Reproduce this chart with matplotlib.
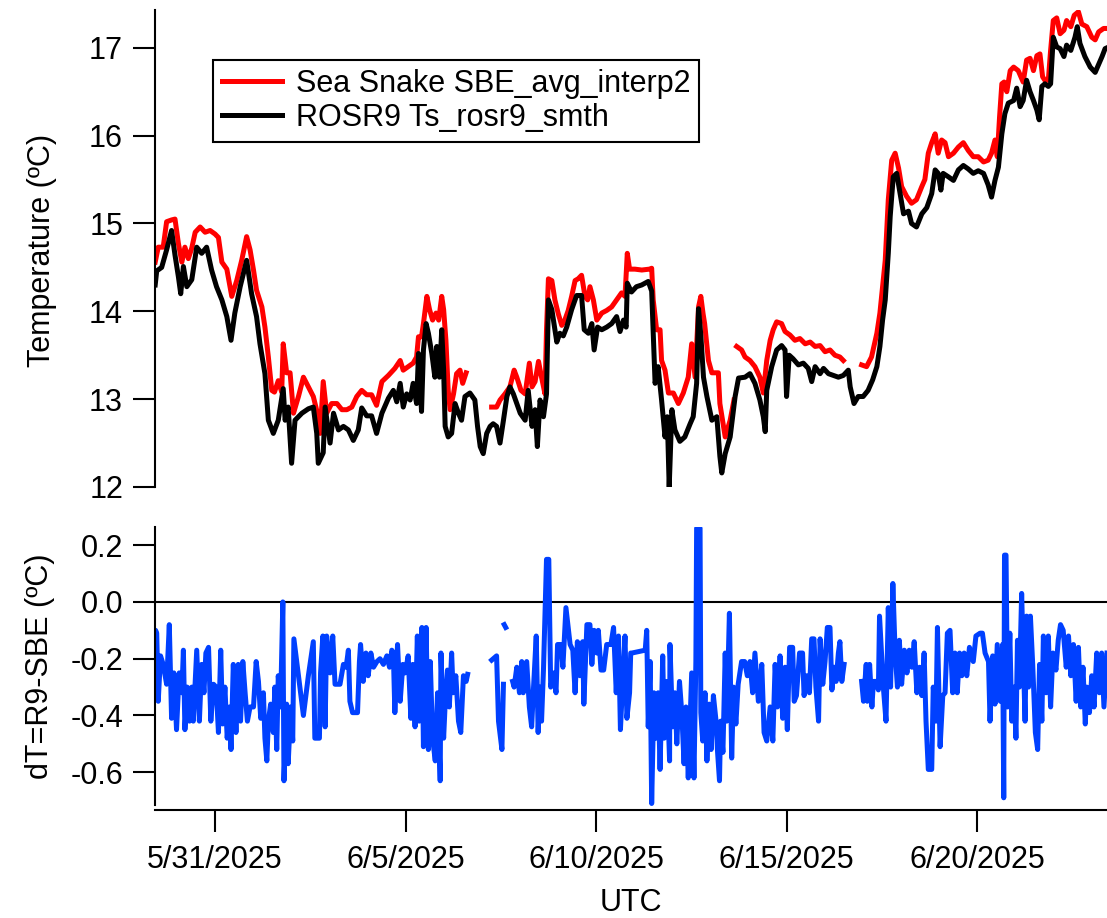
import numpy as np
import matplotlib
matplotlib.use('Agg')
import matplotlib.pyplot as plt
import matplotlib.dates as mdates
from matplotlib.ticker import FixedLocator, FormatStrFormatter, FuncFormatter
from datetime import datetime

nan = np.nan

# times are days since 2025-05-31 00:00 UTC
# Sea Snake SBE (red)
t_sbe = [-1.57, -1.49, -1.36, -1.27, -1.14, -1.05, -0.96, -0.87, -0.79, -0.70, -0.61, -0.52, -0.39,
         -0.26, -0.13, 0.00, 0.09, 0.18, 0.31, 0.44, 0.57, 0.70, 0.83, 0.92, 1.01, 1.09, 1.23, 1.31,
         1.40, 1.49, 1.56, 1.66, 1.75, 1.79, 1.88, 1.97, 2.06, 2.19, 2.32, 2.45, 2.58, 2.71, 2.76,
         2.84, 2.93, 3.06, 3.20, 3.33, 3.46, 3.59, 3.72, 3.85, 3.98, 4.11, 4.24, 4.38, 4.55, 4.72,
         4.86, 4.94, 5.07, 5.20, 5.29, 5.34, 5.42, 5.47, 5.56, 5.63, 5.71, 5.80, 5.87, 5.95, 6.00,
         6.06, 6.12, 6.17, 6.26, 6.34, 6.43, 6.50, 6.59, nan,
         7.26, 7.39, 7.48, 7.61, 7.74, 7.85, 7.92, 8.03, 8.14, 8.25, 8.32, 8.40, 8.49, 8.57, 8.66,
         8.70, 8.75, 8.84, 8.92, 9.01, 9.10, 9.18, 9.27, 9.36, 9.45, 9.53, 9.62, 9.71, 9.78, 9.84,
         9.93, 10.02, 10.15, 10.28, 10.41, 10.54, 10.67, 10.76, 10.82, 10.88, 11.02, 11.20, 11.40,
         11.46, 11.50, 11.59, 11.68, 11.72, 11.81, 11.90, 12.03, 12.16, 12.29, 12.42, 12.51, 12.60,
         12.69, 12.75, 12.81, 12.85, 12.95, 13.04, 13.21, 13.25, 13.39, 13.52, 13.62, nan,
         13.69, 13.82, 13.91, 14.04, 14.17, 14.30, 14.39, 14.48, 14.57, 14.65, 14.74, 14.87, 14.96,
         15.09, 15.22, 15.35, 15.49, 15.62, 15.75, 15.88, 16.01, 16.14, 16.27, 16.40, 16.49, nan,
         16.97, 17.10, 17.23, 17.37, 17.45, 17.59, 17.67, 17.76, 17.85, 17.94, 18.02, 18.15, 18.28,
         18.41, 18.55, 18.63, 18.72, 18.81, 18.90, 18.98, 19.07, 19.16, 19.25, 19.38, 19.51, 19.64,
         19.77, 19.90, 20.03, 20.17, 20.29, 20.38, 20.47, 20.53, 20.59, 20.65, 20.71, 20.78, 20.87,
         20.96, 21.08, 21.21, 21.30, 21.39, 21.48, 21.57, 21.65, 21.72, 21.78, 21.87, 21.93, 22.00,
         22.09, 22.18, 22.28, 22.35, 22.46, 22.55, 22.66, 22.75, 22.88, 23.01, 23.10, 23.19, 23.32,
         23.41]
T_sbe = [14.56, 14.73, 14.73, 15.02, 15.04, 15.05, 14.77, 14.56, 14.73, 14.60, 14.72, 14.90, 14.96,
         14.90, 14.92, 14.88, 14.84, 14.56, 14.48, 14.17, 14.35, 14.58, 14.85, 14.70, 14.47, 14.24,
         14.05, 13.82, 13.48, 13.10, 13.08, 13.21, 13.08, 13.63, 13.30, 13.30, 12.84, 13.03, 13.25,
         13.14, 13.03, 12.80, 12.61, 13.20, 12.84, 12.95, 12.95, 12.88, 12.88, 12.91, 13.03, 13.10,
         13.05, 13.05, 12.93, 13.20, 13.27, 13.35, 13.44, 13.33, 13.37, 13.41, 13.48, 13.71, 13.71,
         13.86, 14.17, 14.02, 13.90, 13.98, 13.90, 14.17, 14.02, 13.67, 13.10, 12.88, 13.06, 13.29,
         13.33, 13.18, 13.30, nan,
         12.91, 12.91, 12.99, 13.06, 13.14, 13.33, 13.25, 13.10, 13.06, 13.41, 13.14, 13.20, 13.43,
         13.25, 13.06, 13.79, 14.37, 14.35, 14.13, 13.97, 13.84, 13.90, 14.01, 14.17, 14.35, 14.37,
         14.41, 14.17, 14.13, 14.28, 14.13, 13.90, 13.98, 14.01, 14.05, 14.13, 14.21, 14.17, 14.66,
         14.48, 14.48, 14.47, 14.48, 14.49, 14.13, 13.79, 13.79, 13.44, 13.33, 13.07, 13.07, 12.95,
         13.07, 13.25, 13.63, 13.25, 14.05, 14.17, 13.97, 13.86, 13.44, 13.30, 13.30, 12.95, 12.57,
         12.76, 12.99, nan,
         13.60, 13.56, 13.48, 13.44, 13.37, 13.25, 13.07, 13.44, 13.67, 13.79, 13.88, 13.86, 13.77,
         13.73, 13.67, 13.69, 13.63, 13.65, 13.60, 13.61, 13.54, 13.56, 13.50, 13.48, 13.44, nan,
         13.39, 13.37, 13.48, 13.75, 13.98, 14.58, 15.27, 15.72, 15.80, 15.63, 15.42, 15.31, 15.23,
         15.27, 15.42, 15.50, 15.80, 15.92, 16.02, 15.80, 15.95, 15.92, 15.76, 15.80, 15.87, 15.92,
         15.83, 15.76, 15.76, 15.70, 15.72, 15.80, 15.95, 15.76, 16.21, 16.59, 16.61, 16.50, 16.74,
         16.78, 16.74, 16.61, 16.86, 16.88, 16.74, 16.91, 16.93, 16.67, 16.63, 16.63, 16.97, 17.31,
         17.34, 17.16, 17.20, 17.31, 17.24, 17.37, 17.41, 17.27, 17.24, 17.12, 17.09, 17.18, 17.22,
         17.22]

# ROSR9 (black)
t_r9 = [-1.57, -1.53, -1.40, -1.27, -1.14, -1.05, -0.96, -0.90, -0.83, -0.74, -0.61, -0.48, -0.35,
        -0.22, -0.09, 0.04, 0.18, 0.31, 0.42, 0.52, 0.66, 0.83, 0.96, 1.09, 1.18, 1.31, 1.40, 1.53,
        1.66, 1.79, 1.84, 1.92, 2.01, 2.10, 2.28, 2.45, 2.58, 2.67, 2.71, 2.84, 2.89, 3.02, 3.11,
        3.24, 3.37, 3.50, 3.63, 3.76, 3.85, 3.98, 4.11, 4.24, 4.38, 4.55, 4.68, 4.77, 4.86, 4.94,
        5.03, 5.12, 5.20, 5.29, 5.34, 5.42, 5.47, 5.54, 5.60, 5.69, 5.77, 5.82, 5.89, 5.95, 6.00,
        6.04, 6.12, 6.21, 6.30, 6.39, 6.47, 6.56, 6.69, 6.82, 6.89, 6.96, 7.04, 7.13, 7.22, 7.30,
        7.39, 7.48, 7.57, 7.66, 7.74, 7.83, 7.92, 8.01, 8.14, 8.22, 8.32, 8.40, 8.46, 8.53, 8.62,
        8.70, 8.75, 8.84, 8.92, 8.97, 9.05, 9.14, 9.23, 9.36, 9.49, 9.62, 9.69, 9.80, 9.89, 9.95,
        10.04, 10.15, 10.28, 10.41, 10.54, 10.63, 10.72, 10.79, 10.82, 10.93, 11.06, 11.20, 11.37,
        11.46, 11.50, 11.55, 11.63, 11.72, 11.81, 11.87, 11.92, 11.99, 12.07, 12.20, 12.33, 12.47,
        12.55, 12.64, 12.69, 12.75, 12.82, 12.91, 13.04, 13.17, 13.25, 13.30, 13.39, 13.52, 13.65,
        13.74, 13.91, 14.04, 14.17, 14.30, 14.39, 14.44, 14.48, 14.61, 14.74, 14.87, 14.96, 15.00,
        15.07, 15.17, 15.31, 15.44, 15.57, 15.66, 15.75, 15.88, 15.97, 16.10, 16.23, 16.36, 16.49,
        16.62, 16.67, 16.77, 16.88, 17.01, 17.14, 17.26, 17.37, 17.45, 17.52, 17.59, 17.67, 17.72,
        17.80, 17.89, 17.98, 18.07, 18.20, 18.28, 18.41, 18.55, 18.68, 18.81, 18.90, 18.98, 19.05,
        19.11, 19.25, 19.38, 19.51, 19.64, 19.77, 19.90, 20.03, 20.17, 20.29, 20.38, 20.47, 20.56,
        20.65, 20.73, 20.82, 20.96, 21.04, 21.13, 21.21, 21.30, 21.39, 21.48, 21.57, 21.63, 21.70,
        21.78, 21.87, 21.93, 22.00, 22.09, 22.18, 22.28, 22.35, 22.46, 22.57, 22.63, 22.70, 22.83,
        22.97, 23.10, 23.19, 23.28, 23.36, 23.41]
T_r9 = [14.30, 14.46, 14.50, 14.70, 14.92, 14.64, 14.39, 14.20, 14.51, 14.28, 14.36, 14.73, 14.66,
        14.73, 14.47, 14.28, 14.13, 13.94, 13.67, 13.98, 14.28, 14.58, 14.20, 13.94, 13.63, 13.29,
        12.76, 12.61, 12.76, 13.12, 12.76, 12.91, 12.27, 12.76, 12.84, 12.89, 12.91, 12.61, 12.27,
        12.39, 12.91, 12.50, 12.84, 12.65, 12.69, 12.65, 12.53, 12.65, 12.90, 12.81, 12.81, 12.61,
        12.84, 13.01, 13.10, 12.97, 13.18, 12.91, 13.06, 12.99, 13.18, 12.95, 13.52, 12.86, 13.56,
        13.86, 13.75, 13.52, 13.25, 13.60, 13.25, 13.79, 13.33, 12.69, 12.57, 12.61, 12.95, 12.84,
        12.76, 13.03, 13.07, 12.99, 12.69, 12.46, 12.38, 12.61, 12.69, 12.72, 12.69, 12.50, 12.76,
        13.03, 13.14, 13.06, 12.95, 12.84, 12.76, 13.10, 12.69, 12.88, 12.46, 12.99, 12.80, 13.06,
        14.13, 14.02, 13.79, 13.65, 13.75, 13.72, 13.82, 14.02, 14.18, 14.18, 13.79, 13.75, 13.86,
        13.56, 13.82, 13.79, 13.82, 13.86, 13.94, 13.77, 13.90, 13.82, 14.32, 14.22, 14.28, 14.30,
        14.34, 14.23, 13.75, 13.18, 13.37, 12.99, 12.57, 12.80, 12.00, 12.88, 12.65, 12.52, 12.57,
        12.72, 12.80, 13.18, 14.03, 13.73, 13.25, 13.03, 12.76, 12.80, 12.35, 12.16, 12.38, 12.57,
        13.03, 13.24, 13.25, 13.29, 13.18, 12.99, 12.80, 12.63, 13.10, 13.37, 13.56, 13.61, 13.56,
        13.03, 13.50, 13.46, 13.39, 13.41, 13.35, 13.20, 13.37, 13.29, 13.35, 13.29, 13.27, 13.25,
        13.27, 13.33, 13.14, 12.95, 13.03, 13.03, 13.10, 13.22, 13.37, 13.60, 13.90, 14.13, 14.66,
        15.08, 15.53, 15.57, 15.34, 15.11, 15.14, 15.00, 14.96, 15.11, 15.18, 15.34, 15.61, 15.57,
        15.38, 15.57, 15.53, 15.49, 15.61, 15.66, 15.62, 15.57, 15.60, 15.57, 15.44, 15.30, 15.49,
        15.64, 16.02, 16.25, 16.37, 16.40, 16.54, 16.33, 16.40, 16.63, 16.50, 16.40, 16.29, 16.18,
        16.56, 16.59, 16.56, 16.59, 17.12, 17.01, 16.99, 16.90, 17.03, 16.97, 17.12, 17.24, 17.05,
        16.90, 16.78, 16.72, 16.81, 16.90, 16.99, 17.00]

# dT = R9 - SBE (blue)
t_dT = [-1.57, -1.56, -1.53, -1.49, -1.43, -1.36, -1.27, -1.20, -1.14, -1.08, -1.01, -0.94, -0.87,
        -0.83, -0.79, -0.73, -0.67, -0.61, -0.57, -0.48, -0.41, -0.35, -0.29, -0.24, -0.17, -0.11,
        -0.04, 0.03, 0.09, 0.15, 0.20, 0.26, 0.32, 0.38, 0.42, 0.48, 0.55, 0.61, 0.67, 0.73, 0.79,
        0.85, 0.92, 1.01, 1.08, 1.14, 1.20, 1.27, 1.31, 1.36, 1.40, 1.46, 1.53, 1.57, 1.62, 1.66,
        1.72, 1.78, 1.81, 1.88, 1.92, 1.99, 2.04, 2.07, 2.19, 2.32, 2.45, 2.58, 2.62, 2.74, 2.77,
        2.83, 2.89, 2.93, 3.02, 3.09, 3.15, 3.28, 3.37, 3.44, 3.50, 3.54, 3.61, 3.74, 3.79, 3.82,
        3.89, 3.96, 4.02, 4.09, 4.16, 4.25, 4.33, 4.42, 4.51, 4.58, 4.64, 4.68, 4.72, 4.79, 4.86,
        4.93, 4.99, 5.07, 5.14, 5.19, 5.25, 5.31, 5.36, 5.43, 5.47, 5.54, 5.60, 5.65, 5.71, 5.78,
        5.84, 5.91, 5.93, 6.00, 6.04, 6.10, 6.15, 6.21, 6.25, 6.32, 6.39, 6.45, 6.52, 6.59, 6.63, nan,
        7.26, 7.39, 7.44, 7.53, 7.57, nan, 7.59, 7.63, nan,
        7.81, 7.85, 7.92, 7.99, 8.05, 8.09, 8.18, 8.25, 8.31, 8.36, 8.43, 8.48, 8.53, 8.57, 8.62,
        8.70, 8.76, 8.81, 8.88, 8.95, 8.99, 9.08, 9.13, 9.21, 9.32, 9.39, 9.45, 9.51, 9.58, 9.65,
        9.68, 9.76, 9.84, 9.89, 9.95, 10.02, 10.06, 10.13, 10.20, 10.28, 10.39, 10.46, 10.53, 10.59,
        10.64, 10.70, 10.76, 10.81, 10.88, 10.91, 10.94, 11.29, 11.33, 11.37, 11.42, 11.46, 11.52,
        11.57, 11.63, 11.68, 11.75, 11.79, 11.86, 11.93, 11.94, 12.01, 12.07, 12.12, 12.19, 12.25,
        12.31, 12.36, 12.42, 12.51, 12.57, 12.62, 12.64, 12.73, 12.75, 12.80, 12.86, 12.91, 12.97,
        13.02, 13.08, 13.15, 13.19, 13.24, 13.27, 13.33, 13.39, 13.43, 13.50, 13.56, 13.61, 13.67,
        13.73, 13.82, 13.90, 13.97, 14.04, 14.11, 14.17, 14.26, 14.35, 14.41, 14.48, 14.57, 14.64,
        14.70, 14.76, 14.83, 14.90, 14.96, 15.02, 15.08, 15.16, 15.20, 15.26, 15.34, 15.42, 15.46,
        15.53, 15.60, 15.66, 15.72, 15.77, 15.84, 15.88, 15.95, 16.01, 16.07, 16.14, 16.19, 16.25,
        16.30, 16.36, 16.40, 16.45, 16.51, nan,
        16.97, 17.02, 17.09, 17.12, 17.18, 17.24, 17.28, 17.35, 17.41, 17.44, 17.54, 17.61, 17.67,
        17.73, 17.79, 17.85, 17.91, 17.96, 18.02, 18.09, 18.16, 18.22, 18.29, 18.35, 18.42, 18.49,
        18.55, 18.61, 18.66, 18.72, 18.81, 18.85, 18.92, 18.96, 19.03, 19.10, 19.16, 19.22, 19.29,
        19.36, 19.42, 19.48, 19.54, 19.60, 19.66, 19.73, 19.80, 19.90, 19.97, 20.08, 20.14, 20.21,
        20.30, 20.34, 20.41, 20.47, 20.53, 20.61, 20.67, 20.70, 20.72, 20.76, 20.80, 20.86, 20.91,
        20.97, 21.02, 21.06, 21.11, 21.17, 21.21, 21.26, 21.30, 21.35, 21.40, 21.46, 21.53, 21.59,
        21.64, 21.70, 21.74, 21.81, 21.87, 21.93, 21.99, 22.07, 22.13, 22.19, 22.26, 22.34, 22.40,
        22.46, 22.53, 22.60, 22.66, 22.72, 22.78, 22.84, 22.88, 22.95, 23.01, 23.07, 23.14, 23.21,
        23.27, 23.33, 23.41]
dT = [-0.28, -0.10, -0.11, -0.35, -0.19, -0.22, -0.29, -0.08, -0.41, -0.25, -0.45, -0.25, -0.32,
      -0.17, -0.45, -0.30, -0.42, -0.30, -0.42, -0.17, -0.42, -0.22, -0.32, -0.18, -0.16, -0.42,
      -0.29, -0.30, -0.46, -0.17, -0.43, -0.30, -0.48, -0.37, -0.52, -0.22, -0.46, -0.22, -0.42,
      -0.21, -0.32, -0.42, -0.37, -0.37, -0.21, -0.28, -0.41, -0.32, -0.48, -0.56, -0.42, -0.36,
      -0.46, -0.30, -0.52, -0.26, -0.37, 0.00, -0.63, -0.36, -0.57, -0.37, -0.49, -0.13, -0.26,
      -0.40, -0.26, -0.14, -0.48, -0.48, -0.25, -0.12, -0.44, -0.12, -0.25, -0.12, -0.29, -0.29,
      -0.22, -0.23, -0.17, -0.35, -0.39, -0.39, -0.21, -0.15, -0.28, -0.18, -0.26, -0.18, -0.23,
      -0.21, -0.20, -0.22, -0.19, -0.23, -0.17, -0.18, -0.39, -0.15, -0.35, -0.22, -0.25, -0.19,
      -0.41, -0.22, -0.44, -0.12, -0.42, -0.09, -0.51, -0.09, -0.52, -0.21, -0.48, -0.56, -0.32,
      -0.63, -0.18, -0.48, -0.36, -0.24, -0.37, -0.18, -0.32, -0.26, -0.42, -0.46, -0.26, -0.28,
      -0.255, nan,
      -0.205, -0.19, -0.42, -0.52, -0.29, nan, -0.08, -0.09, nan,
      -0.28, -0.30, -0.23, -0.32, -0.21, -0.32, -0.21, -0.37, -0.44, -0.30, -0.12, -0.46, -0.30,
      -0.42, -0.24, 0.15, 0.15, -0.30, -0.25, -0.32, -0.15, -0.15, -0.23, -0.02, -0.15, -0.17,
      -0.32, -0.14, -0.26, -0.14, -0.36, -0.08, -0.08, -0.22, -0.10, -0.18, -0.10, -0.24, -0.24,
      -0.15, -0.15, -0.09, -0.32, -0.12, -0.45, -0.28, -0.12, -0.41, -0.32, -0.18, -0.18, -0.17,
      -0.10, -0.44, -0.21, -0.71, -0.32, -0.48, -0.32, -0.59, -0.19, -0.48, -0.28, -0.56, -0.15,
      -0.44, -0.32, -0.50, -0.28, -0.39, -0.57, -0.37, -0.62, -0.25, -0.62, -0.21, 0.26, 0.26,
      -0.39, -0.49, -0.32, -0.56, -0.36, -0.52, -0.33, -0.42, -0.53, -0.63, -0.42, -0.53, -0.18,
      -0.42, -0.04, -0.55, -0.30, -0.43, -0.29, -0.21, -0.21, -0.26, -0.21, -0.32, -0.18, -0.35,
      -0.22, -0.46, -0.49, -0.37, -0.49, -0.22, -0.37, -0.19, -0.41, -0.23, -0.45, -0.16, -0.16,
      -0.35, -0.33, -0.18, -0.18, -0.33, -0.26, -0.32, -0.13, -0.13, -0.30, -0.42, -0.13, -0.29,
      -0.21, -0.09, -0.09, -0.31, -0.23, -0.28, -0.18, -0.14, -0.28, -0.22, nan,
      -0.28, -0.35, -0.22, -0.35, -0.22, -0.37, -0.28, -0.28, -0.31, -0.05, -0.30, -0.42, -0.02,
      -0.30, 0.065, -0.18, -0.30, -0.135, -0.29, -0.17, -0.25, -0.17, -0.23, -0.14, -0.32, -0.23,
      -0.33, -0.18, -0.42, -0.59, -0.59, -0.30, -0.42, -0.09, -0.51, -0.33, -0.32, -0.11, -0.10,
      -0.32, -0.18, -0.32, -0.18, -0.26, -0.18, -0.26, -0.16, -0.21, -0.12, -0.11, -0.11, -0.18,
      -0.21, -0.42, -0.19, -0.36, -0.15, -0.35, -0.15, -0.69, 0.165, 0.165, -0.37, -0.11, -0.42,
      -0.30, -0.48, -0.135, -0.30, 0.03, -0.18, -0.42, -0.05, -0.30, -0.05, -0.22, -0.46, -0.52,
      -0.22, -0.42, -0.12, -0.32, -0.12, -0.37, -0.18, -0.24, -0.135, -0.08, -0.10, -0.23, -0.12,
      -0.26, -0.15, -0.35, -0.16, -0.37, -0.23, -0.43, -0.30, -0.39, -0.26, -0.37, -0.18, -0.32,
      -0.18, -0.37, -0.18]

tick_dates = [datetime(2025, 5, 31), datetime(2025, 6, 5), datetime(2025, 6, 10),
              datetime(2025, 6, 15), datetime(2025, 6, 20)]

plt.rcParams['font.family'] = ['Liberation Sans', 'DejaVu Sans']
plt.rcParams['font.size'] = 22
plt.rcParams['axes.unicode_minus'] = False

W, H = 1107, 918
fig = plt.figure(figsize=(W / 100, H / 100), dpi=100)
ax1 = fig.add_axes([155 / W, 1 - 487 / H, 952 / W, 477 / H])
ax2 = fig.add_axes([155 / W, 1 - 810 / H, 952 / W, 283 / H], sharex=ax1)

t0 = mdates.date2num(datetime(2025, 5, 31))

ax1.plot(t0 + np.array(t_sbe), T_sbe, color='#ff0000', lw=3.6, label='Sea Snake SBE_avg_interp2')
ax1.plot(t0 + np.array(t_r9), T_r9, color='black', lw=3.6, label='ROSR9 Ts_rosr9_smth')

ax2.axhline(0, color='black', lw=1.5, zorder=1)
ax2.plot(t0 + np.array(t_dT), dT, color='#0040ff', lw=3.6, zorder=2)

ax1.set_xlim(t0 - 1.575, t0 + 23.41)
ax1.set_ylim(12, 17.43)
ax2.set_ylim(-0.733, 0.264)

ax1.yaxis.set_major_locator(FixedLocator([12, 13, 14, 15, 16, 17]))
ax2.yaxis.set_major_locator(FixedLocator([-0.6, -0.4, -0.2, 0.0, 0.2]))
ax2.yaxis.set_major_formatter(FormatStrFormatter('%.1f'))

ax2.xaxis.set_major_locator(FixedLocator(mdates.date2num(tick_dates)))
def fmt_date(x, pos):
    d = mdates.num2date(x)
    return f"{d.month}/{d.day}/{d.year}"
ax2.xaxis.set_major_formatter(FuncFormatter(fmt_date))

for ax in (ax1, ax2):
    ax.spines['top'].set_visible(False)
    ax.spines['right'].set_visible(False)
    ax.spines['left'].set_linewidth(1.5)
    ax.spines['bottom'].set_linewidth(1.5)
    ax.tick_params(axis='y', direction='out', length=16, width=1.5, pad=7)
ax1.spines['bottom'].set_visible(False)
ax1.tick_params(axis='x', bottom=False, labelbottom=False)
ax2.tick_params(axis='x', direction='out', length=16, width=1.5, pad=9)
ax2.spines['left'].set_bounds(-0.715, 0.264)

fig.text(42 / W, 1 - 250 / H, 'Temperature (ºC)', rotation=90, ha='center', va='center')
fig.text(40 / W, 1 - 666 / H, 'dT=R9-SBE (ºC)', rotation=90, ha='center', va='center')
fig.text(631 / W, 1 - 903 / H, 'UTC', ha='center', va='center')

leg = ax1.legend(loc='upper left', bbox_to_anchor=(213 / W, 1 - 60 / H),
                 bbox_transform=fig.transFigure, fancybox=False, edgecolor='black',
                 framealpha=1, handlelength=1.95, handletextpad=0.45, borderpad=0.3,
                 labelspacing=0.12, borderaxespad=0)
leg.get_frame().set_linewidth(1.5)

fig.savefig('out.png', dpi=100)
